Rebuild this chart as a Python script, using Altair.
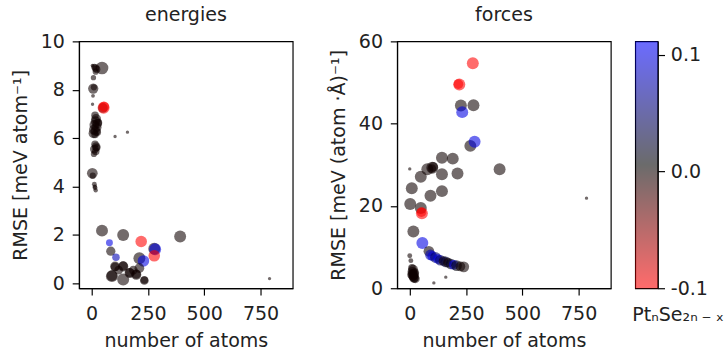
import altair as alt
import pandas as pd

# ---------------- data ----------------
# energies panel: number of atoms, RMSE [meV/atom], composition offset x, marker size
e_atoms = [17, 12, 22, 18, 46, 4, 8, 7, 10, 6, 50, 53, 55, 4,
           15, 20, 18, 25, 12, 22, 10, 18, 8, 25, 15, 30,
           104, 159,
           15, 20, 12, 18, 10, 22,
           3, 5, 12, 15, 18, 14,
           46, 140, 393, 220, 79, 278, 282, 278, 85, 108, 212, 230,
           140, 140, 104, 104, 169, 169, 212, 90, 90, 140, 198, 198, 234, 234, 120, 185, 790]
e_rmse = [8.9, 8.95, 8.85, 8.75, 8.9, 9.0, 8.5, 8.05, 8.1, 7.75, 7.25, 7.26, 7.3, 7.4,
          6.95, 6.8, 6.7, 6.6, 6.55, 6.45, 6.35, 6.3, 6.2, 6.25, 6.15, 6.65,
          6.07, 6.25,
          5.75, 5.65, 5.55, 5.45, 5.35, 5.6,
          4.55, 4.45, 4.1, 3.95, 3.85, 4.0,
          2.18, 2.0, 1.94, 1.73, 1.68, 1.43, 1.41, 1.14, 1.33, 1.08, 1.04, 0.93,
          0.7, 0.72, 0.7, 0.68, 0.43, 0.45, 0.63, 0.3, 0.32, 0.16, 0.36, 0.38, 0.12, 0.14, 0.55, 0.55, 0.2]
e_comp = [0, 0, 0, 0, 0, 0, 0, 0, 0, 0, 0, -0.1, -0.1, 0,
          0, 0, 0, 0, 0, 0, 0, 0, 0, 0, 0, 0,
          0, 0,
          0, 0, 0, 0, 0, 0,
          0, 0, 0, 0, 0, 0,
          0, 0, 0, -0.1, 0.1, 0, 0.1, -0.1, 0, 0.08, 0, 0.1,
          0, 0, 0, 0, 0, 0, 0, 0, 0, 0, 0, 0, 0, 0, 0, 0, 0]
e_size = [60, 40, 60, 40, 170, 15, 30, 110, 40, 15, 100, 150, 110, 12,
          60, 100, 100, 100, 100, 100, 100, 100, 100, 60, 60, 60,
          12, 12,
          60, 80, 80, 60, 40, 60,
          120, 40, 25, 25, 20, 20,
          150, 150, 150, 140, 50, 150, 150, 140, 90, 60, 150, 140,
          110, 90, 100, 80, 110, 90, 100, 150, 120, 150, 110, 90, 80, 60, 80, 80, 12]

# forces panel: number of atoms, RMSE [meV/(atom A)], composition offset x, marker size
f_atoms = [280, 216, 220, 227, 283, 233, 269, 288, 399, 143, 191, 100, 104, 98,
           78, 143, 212, 49, 9, 143, 92, 2, 49, 52, 54, 16, 56,
           85, 92, 100, 114, 125, 136, 150, 160, 170, 183, 195, 208, 225, 240,
           0, 0, 5, 160, 107, 785,
           10, 15, 12, 18, 14, 20, 25, 8, 22, 16, 20, 12, 18]
f_rmse = [54.7, 49.6, 49.5, 44.4, 44.5, 42.8, 34.6, 35.6, 28.9, 31.7, 31.5, 29.3, 29.5, 29.1,
          28.9, 27.7, 27.9, 27.1, 24.3, 23.6, 22.5, 20.5, 19.5, 18.5, 18.2, 13.8, 11.0,
          9.0, 8.1, 7.8, 7.5, 7.1, 6.8, 6.6, 6.4, 6.2, 5.9, 5.7, 5.5, 5.3, 5.2,
          29.0, 7.9, 6.7, 2.7, 1.3, 21.9,
          5.0, 4.5, 4.0, 3.5, 3.0, 2.6, 2.3, 3.3, 3.8, 2.8, 3.2, 3.6, 2.4]
f_comp = [-0.1, -0.1, -0.1, 0, 0, 0.1, 0, 0.1, 0, 0, 0, 0, 0, 0,
          0, 0, 0, 0, 0, 0, 0, 0, 0, -0.1, -0.1, 0, 0.1,
          0, 0.08, 0.1, 0.05, 0.1, 0.05, 0, 0.03, 0, 0.02, 0.1, 0.01, 0, 0,
          0, 0, 0, 0, 0, 0,
          0, 0, 0, 0, 0, 0, 0, 0, 0, 0, 0, 0, 0]
f_size = [150, 100, 150, 150, 150, 150, 150, 150, 150, 150, 150, 150, 100, 80,
          150, 150, 150, 150, 150, 150, 150, 150, 150, 100, 150, 150, 150,
          120, 120, 100, 120, 100, 120, 100, 120, 100, 120, 100, 120, 100, 120,
          12, 25, 25, 12, 12, 12,
          60, 100, 100, 100, 100, 100, 80, 80, 80, 80, 80, 80, 80]

# colour bar
cbar_min = -0.1
cbar_max = 0.1115
cbar_mid = (cbar_min + cbar_max) / 2
cmap_colors = ["#ff0000", "#000000", "#0000ff"]
point_alpha = 0.58
cbar_ticks = [-0.1, 0.0, 0.1]

x_ticks = [0, 250, 500, 750]
e_ticks = [0, 2, 4, 6, 8, 10]
f_ticks = [0, 20, 40, 60]
x_domain = [-56, 893]
e_domain = [-0.2, 10]
f_domain = [0, 60]

FONT = "DejaVu Sans"
FS = 19.5
TXT = "#222222"
W, H = 219, 253

energies = pd.DataFrame({"atoms": e_atoms, "rmse": e_rmse, "comp": e_comp, "s": e_size})
forces = pd.DataFrame({"atoms": f_atoms, "rmse": f_rmse, "comp": f_comp, "s": f_size})

color_scale = alt.Scale(domain=[cbar_min, cbar_mid, cbar_max], range=cmap_colors, interpolate="rgb")


def axis(values, title, fmt=None, orient=None, label_pad=8, title_pad=10, label_expr=None):
    kw = dict(values=values, grid=False, domainColor="black", domainWidth=1.2,
              tickColor="black", tickWidth=1.2, tickSize=7, labelFont=FONT, labelFontSize=FS,
              labelColor=TXT, titleFont=FONT, titleFontSize=FS, titleFontWeight="normal",
              titleColor=TXT, labelPadding=label_pad, titlePadding=title_pad, title=title)
    if fmt:
        kw["format"] = fmt
    if orient:
        kw["orient"] = orient
    if label_expr:
        kw["labelExpr"] = label_expr
    return alt.Axis(**kw)


def panel(df, ydom, yticks, ytitle, title):
    return alt.Chart(df).mark_circle(opacity=point_alpha).encode(
        x=alt.X("atoms:Q", scale=alt.Scale(domain=x_domain, nice=False, zero=False),
                axis=axis(x_ticks, "number of atoms", label_pad=10, title_pad=9)),
        y=alt.Y("rmse:Q", scale=alt.Scale(domain=ydom, nice=False, zero=False),
                axis=axis(yticks, ytitle, label_pad=8, title_pad=10)),
        color=alt.Color("comp:Q", scale=color_scale, legend=None),
        size=alt.Size("s:Q", scale=None, legend=None),
    ).properties(
        width=W, height=H,
        title=alt.TitleParams(title, font=FONT, fontSize=FS, fontWeight="normal",
                              color=TXT, offset=6),
    )


left = panel(energies, e_domain, e_ticks, "RMSE [meV atom⁻¹]", "energies")
right = panel(forces, f_domain, f_ticks, "RMSE [meV (atom ·Å)⁻¹]", "forces")

cbar_df = pd.DataFrame({"lo": [cbar_min], "hi": [cbar_max]})
gradient = alt.Gradient(
    gradient="linear",
    stops=[alt.GradientStop(color=cmap_colors[0], offset=0),
           alt.GradientStop(color=cmap_colors[1], offset=0.5),
           alt.GradientStop(color=cmap_colors[2], offset=1)],
    x1=0, x2=0, y1=1, y2=0,
)
cbar = alt.Chart(cbar_df).mark_rect(color=gradient, fillOpacity=point_alpha, strokeWidth=0).encode(
    x=alt.value(0), x2=alt.value(23),
    y=alt.Y("lo:Q", scale=alt.Scale(domain=[cbar_min, cbar_max], nice=False, zero=False),
            axis=axis(cbar_ticks, None, orient="right", label_pad=6,
                      label_expr="replace(format(datum.value, '.1f'), '\u2212', '-')")),
    y2="hi:Q",
).properties(
    width=23, height=H,
    title=alt.TitleParams("PtₙSe₂ₙ\u2009₋\u2009ₓ", orient="bottom", font=FONT, fontSize=FS,
                          fontWeight="normal", color=TXT, offset=9, anchor="start", dx=-3),
)

chart = alt.hconcat(
    left,
    alt.hconcat(right, cbar, spacing=20),
    spacing=35,
).properties(
    padding={"left": 10, "top": 0, "right": 0, "bottom": 0},
).configure_view(stroke="black", strokeWidth=1.2)

chart.save("out.html", embed_options={"renderer": "svg", "actions": False})
